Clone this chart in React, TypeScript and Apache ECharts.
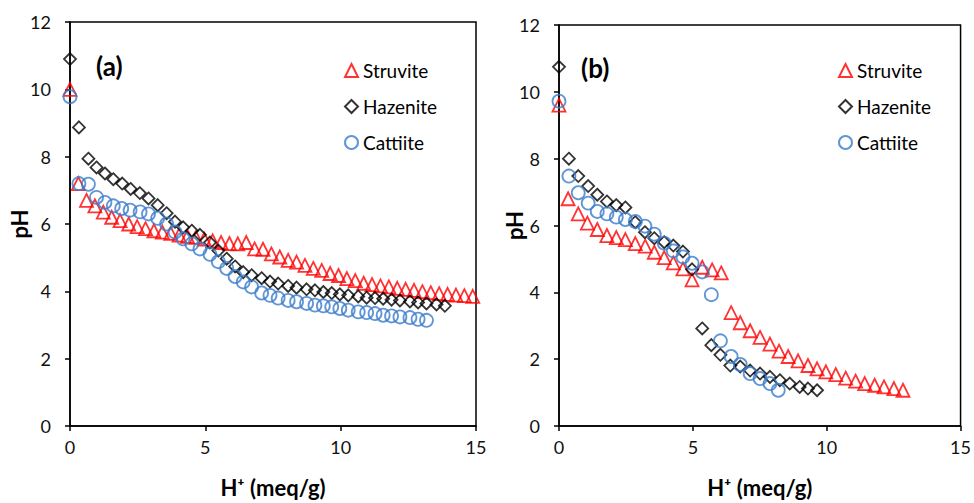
import React, { useEffect, useRef } from "react";
import * as echarts from "echarts";

const seriesNames = ["Struvite", "Hazenite", "Cattiite"];
const xTicks = [0, 5, 10, 15];
const yTicks = [0, 2, 4, 6, 8, 10, 12];

// Panel (a)
const aStruviteX = [0, 0.31, 0.61, 0.92, 1.23, 1.54, 1.85, 2.17, 2.48, 2.79, 3.1, 3.41, 3.72, 4.03, 4.34, 4.65, 4.96, 5.27, 5.58, 5.89, 6.2, 6.51, 6.82, 7.13, 7.44, 7.75, 8.06, 8.37, 8.68, 8.99, 9.3, 9.61, 9.92, 10.23, 10.54, 10.85, 11.16, 11.47, 11.78, 12.09, 12.4, 12.71, 13.02, 13.33, 13.64, 13.95, 14.26, 14.57, 14.88];
const aStruviteY = [10.0, 7.2, 6.7, 6.54, 6.35, 6.2, 6.1, 6.0, 5.92, 5.86, 5.8, 5.76, 5.72, 5.67, 5.63, 5.6, 5.55, 5.5, 5.45, 5.42, 5.41, 5.45, 5.26, 5.25, 5.11, 5.02, 4.92, 4.87, 4.77, 4.68, 4.62, 4.53, 4.47, 4.38, 4.32, 4.24, 4.2, 4.16, 4.13, 4.09, 4.06, 4.03, 3.99, 3.96, 3.93, 3.91, 3.89, 3.87, 3.85];
const aHazeniteX = [0, 0.33, 0.68, 0.98, 1.29, 1.6, 1.93, 2.24, 2.58, 2.9, 3.24, 3.57, 3.88, 4.18, 4.5, 4.8, 5.17, 5.48, 5.79, 6.1, 6.4, 6.71, 7.08, 7.39, 7.69, 8.06, 8.37, 8.74, 9.05, 9.36, 9.67, 9.97, 10.28, 10.65, 10.96, 11.27, 11.57, 11.88, 12.19, 12.56, 12.86, 13.17, 13.54, 13.85];
const aHazeniteY = [10.9, 8.87, 7.94, 7.68, 7.5, 7.33, 7.2, 7.04, 6.92, 6.76, 6.56, 6.32, 6.07, 5.9, 5.8, 5.68, 5.45, 5.21, 4.97, 4.74, 4.57, 4.48, 4.39, 4.29, 4.23, 4.16, 4.11, 4.06, 4.03, 3.98, 3.95, 3.91, 3.88, 3.85, 3.81, 3.8, 3.78, 3.75, 3.73, 3.7, 3.67, 3.64, 3.61, 3.57];
const aCattiiteX = [0, 0.33, 0.68, 0.98, 1.29, 1.6, 1.91, 2.22, 2.59, 2.9, 3.24, 3.57, 3.88, 4.18, 4.5, 4.8, 5.17, 5.48, 5.79, 6.1, 6.4, 6.71, 7.08, 7.39, 7.69, 8.06, 8.37, 8.74, 9.05, 9.36, 9.67, 9.97, 10.28, 10.65, 10.96, 11.27, 11.57, 11.88, 12.19, 12.56, 12.86, 13.17];
const aCattiiteY = [9.78, 7.2, 7.18, 6.79, 6.64, 6.54, 6.46, 6.41, 6.36, 6.3, 6.17, 6.0, 5.76, 5.56, 5.41, 5.26, 5.1, 4.88, 4.68, 4.44, 4.28, 4.13, 3.95, 3.88, 3.8, 3.73, 3.69, 3.64, 3.59, 3.57, 3.54, 3.49, 3.44, 3.39, 3.37, 3.34, 3.29, 3.27, 3.24, 3.22, 3.17, 3.14];

// Panel (b)
const bStruviteX = [0, 0.34, 0.72, 1.06, 1.43, 1.79, 2.14, 2.48, 2.85, 3.22, 3.56, 3.93, 4.27, 4.63, 4.97, 5.35, 5.72, 6.06, 6.43, 6.77, 7.14, 7.51, 7.88, 8.22, 8.56, 8.93, 9.3, 9.64, 9.97, 10.34, 10.71, 11.08, 11.42, 11.79, 12.14, 12.51, 12.85];
const bStruviteY = [9.6, 6.8, 6.35, 6.07, 5.88, 5.7, 5.64, 5.58, 5.46, 5.38, 5.2, 5.04, 4.88, 4.7, 4.37, 4.75, 4.67, 4.58, 3.39, 3.09, 2.85, 2.65, 2.45, 2.24, 2.08, 1.95, 1.81, 1.71, 1.62, 1.54, 1.43, 1.34, 1.27, 1.22, 1.17, 1.12, 1.07];
const bHazeniteX = [0, 0.37, 0.72, 1.09, 1.43, 1.79, 2.14, 2.48, 2.85, 3.21, 3.56, 3.93, 4.27, 4.63, 4.97, 5.35, 5.69, 6.03, 6.4, 6.77, 7.14, 7.51, 7.88, 8.25, 8.62, 8.99, 9.3, 9.64];
const bHazeniteY = [10.75, 8.0, 7.48, 7.18, 6.92, 6.72, 6.61, 6.54, 6.1, 5.8, 5.62, 5.5, 5.4, 5.22, 4.69, 2.92, 2.42, 2.13, 1.81, 1.78, 1.66, 1.57, 1.47, 1.37, 1.27, 1.17, 1.12, 1.07];
const bCattiiteX = [0, 0.37, 0.72, 1.09, 1.43, 1.79, 2.14, 2.48, 2.85, 3.21, 3.56, 3.93, 4.27, 4.63, 4.97, 5.35, 5.69, 6.03, 6.43, 6.77, 7.14, 7.51, 7.88, 8.19];
const bCattiiteY = [9.72, 7.48, 6.98, 6.67, 6.42, 6.35, 6.25, 6.18, 6.12, 5.98, 5.74, 5.47, 5.24, 5.06, 4.87, 4.61, 3.93, 2.55, 2.08, 1.84, 1.57, 1.42, 1.27, 1.07];

const FONT = "Lato, 'Noto Sans', sans-serif";
const RED = "#ff0000";
const BLACK = "#000000";
const BLUE = "#3a7ccc";

const zip = (xs: number[], ys: number[]) => xs.map((x, i) => [x, ys[i]]);

const symbols: Record<string, { symbol: string; size: number; color: string }> = {
  Struvite: { symbol: "triangle", size: 13, color: RED },
  Hazenite: { symbol: "diamond", size: 12, color: BLACK },
  Cattiite: { symbol: "circle", size: 13, color: BLUE },
};

function makeSeries(name: string, data: number[][], idx: number) {
  const s = symbols[name];
  return {
    type: "scatter",
    name,
    xAxisIndex: idx,
    yAxisIndex: idx,
    data,
    symbol: s.symbol,
    symbolSize: s.size,
    itemStyle: { color: "rgba(255,255,255,0)", borderColor: s.color, borderWidth: 1.8 },
    emphasis: { disabled: true },
  };
}

function makeXAxis(idx: number) {
  return {
    type: "value",
    gridIndex: idx,
    min: 0,
    max: 15,
    interval: 5,
    name: "H⁺ (meq/g)",
    nameLocation: "middle",
    nameGap: 50,
    nameMoveOverlap: false,
    nameTextStyle: { fontFamily: FONT, fontSize: 22, fontWeight: "bold", color: "#000" },
    axisLine: { show: true, onZero: false, lineStyle: { color: "#000", width: 1.5 } },
    axisTick: { show: true, inside: false, length: 5, lineStyle: { color: "#000", width: 1.5 } },
    axisLabel: { fontFamily: FONT, fontSize: 18, color: "#111", margin: 12 },
    splitLine: { show: false },
  };
}

function makeYAxis(idx: number, gap: number) {
  return {
    type: "value",
    gridIndex: idx,
    min: 0,
    max: 12,
    interval: 2,
    name: "pH",
    nameLocation: "middle",
    nameGap: gap,
    nameRotate: 90,
    nameMoveOverlap: false,
    nameTextStyle: { fontFamily: FONT, fontSize: 22, fontWeight: "bold", color: "#000" },
    axisLine: { show: true, onZero: false, lineStyle: { color: "#000", width: 1.5 } },
    axisTick: { show: true, inside: false, length: 5, lineStyle: { color: "#000", width: 1.5 } },
    axisLabel: { fontFamily: FONT, fontSize: 18, color: "#111", margin: 19 },
    splitLine: { show: false },
  };
}

function makeLegend(left: number) {
  return {
    data: seriesNames,
    orient: "vertical",
    left,
    top: 56,
    itemWidth: 13,
    itemHeight: 13,
    itemGap: 17,
    selectedMode: false,
    textStyle: { fontFamily: FONT, fontSize: 19, color: "#000" },
  };
}

export default function App() {
  const ref = useRef<HTMLDivElement>(null);
  useEffect(() => {
    if (!ref.current) return;
    const chart = echarts.init(ref.current, undefined, { renderer: "svg" });
    chart.setOption({
      animation: false,
      backgroundColor: "#ffffff",
      grid: [
        { left: 70, right: 498, top: 22, bottom: 75, show: true, borderColor: "#000", borderWidth: 1.5 },
        { left: 559, right: 9, top: 25, bottom: 75, show: true, borderColor: "#000", borderWidth: 1.5 },
      ],
      xAxis: [makeXAxis(0), makeXAxis(1)],
      yAxis: [makeYAxis(0, 40), makeYAxis(1, 34)],
      legend: [makeLegend(339), makeLegend(833)],
      graphic: [
        { type: "text", left: 96, top: 53, style: { text: "(a)", fontFamily: FONT, fontSize: 26, fontWeight: "bold", fill: "#000" } },
        { type: "text", left: 581, top: 55, style: { text: "(b)", fontFamily: FONT, fontSize: 26, fontWeight: "bold", fill: "#000" } },
      ],
      series: [
        makeSeries("Struvite", zip(aStruviteX, aStruviteY), 0),
        makeSeries("Hazenite", zip(aHazeniteX, aHazeniteY), 0),
        makeSeries("Cattiite", zip(aCattiiteX, aCattiiteY), 0),
        makeSeries("Struvite", zip(bStruviteX, bStruviteY), 1),
        makeSeries("Hazenite", zip(bHazeniteX, bHazeniteY), 1),
        makeSeries("Cattiite", zip(bCattiiteX, bCattiiteY), 1),
      ],
    });
    return () => chart.dispose();
  }, []);
  return <div ref={ref} style={{ width: 974, height: 503, position: "absolute", left: 0, top: 0 }} />;
}
